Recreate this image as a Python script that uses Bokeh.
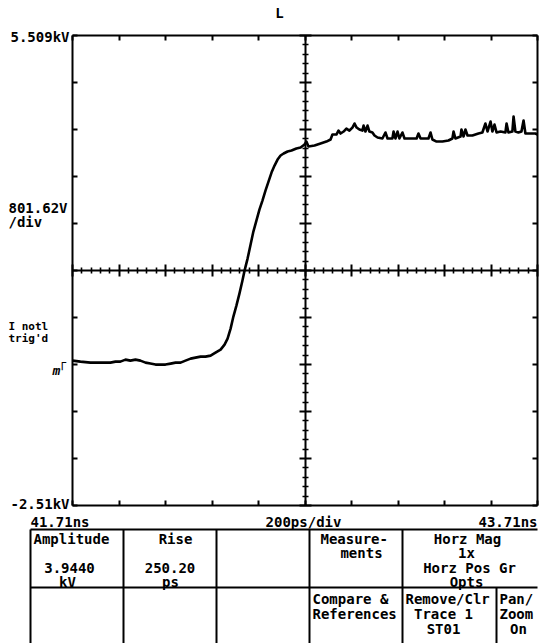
from bokeh.plotting import figure
from bokeh.models import Range1d, LinearAxis, FixedTicker, CustomJSTickFormatter
from bokeh.core.properties import value
from bokeh.embed import file_html
from bokeh.resources import INLINE

time_ns = [41.710, 41.744, 41.787, 41.830, 41.873, 41.895, 41.916, 41.938, 41.959, 41.981,
           42.002, 42.024, 42.045, 42.067, 42.088, 42.110, 42.132, 42.153, 42.175, 42.196,
           42.218, 42.239, 42.261, 42.282, 42.304, 42.325, 42.347, 42.364, 42.377, 42.390,
           42.402, 42.415, 42.428, 42.441, 42.450, 42.463, 42.476, 42.488, 42.501, 42.514,
           42.527, 42.540, 42.553, 42.566, 42.579, 42.592, 42.605, 42.618, 42.635, 42.652,
           42.673, 42.691, 42.708, 42.716, 42.725, 42.751, 42.777, 42.802, 42.820, 42.828,
           42.845, 42.854, 42.863, 42.876, 42.888, 42.901, 42.914, 42.923, 42.932, 42.944,
           42.957, 42.962, 42.970, 42.979, 42.987, 43.000, 43.009, 43.022, 43.043, 43.056,
           43.065, 43.086, 43.091, 43.099, 43.108, 43.116, 43.129, 43.138, 43.164, 43.190,
           43.198, 43.207, 43.241, 43.250, 43.258, 43.276, 43.301, 43.327, 43.344, 43.349,
           43.357, 43.379, 43.383, 43.392, 43.400, 43.409, 43.430, 43.456, 43.473, 43.486,
           43.495, 43.508, 43.516, 43.525, 43.534, 43.551, 43.572, 43.577, 43.585, 43.602,
           43.607, 43.615, 43.628, 43.641, 43.650, 43.658, 43.680, 43.701, 43.710]
volts_kv = [-0.036, -0.053, -0.070, -0.070, -0.070, -0.053, -0.053, -0.019, -0.036, -0.019,
            -0.036, -0.070, -0.087, -0.104, -0.104, -0.104, -0.087, -0.070, -0.070, -0.036,
            -0.002, 0.015, 0.032, 0.032, 0.049, 0.100, 0.152, 0.237, 0.339, 0.510,
            0.715, 0.902, 1.107, 1.329, 1.499, 1.704, 1.943, 2.165, 2.353, 2.540,
            2.694, 2.864, 3.018, 3.171, 3.291, 3.393, 3.462, 3.496, 3.530, 3.547,
            3.581, 3.598, 3.649, 3.700, 3.615, 3.632, 3.666, 3.700, 3.735, 3.820,
            3.820, 3.888, 3.837, 3.871, 3.922, 3.888, 3.939, 4.008, 3.939, 3.905,
            3.888, 3.973, 3.871, 3.973, 3.871, 3.854, 3.803, 3.769, 3.752, 3.854,
            3.752, 3.752, 3.871, 3.752, 3.871, 3.752, 3.854, 3.752, 3.752, 3.752,
            3.837, 3.752, 3.752, 3.854, 3.735, 3.700, 3.700, 3.718, 3.752, 3.871,
            3.752, 3.786, 3.905, 3.786, 3.905, 3.803, 3.803, 3.837, 3.854, 4.008,
            3.871, 4.042, 3.871, 3.990, 3.854, 3.871, 3.854, 4.008, 3.854, 3.871,
            4.127, 3.871, 3.854, 3.871, 4.059, 3.837, 3.837, 3.837, 3.820]

t_start, t_end = 41.71, 43.71          # ns, 200 ps/div
v_top, v_per_div = 5.509, 0.80162      # kV, 801.62 V/div
n_div = 10
y_end_labels = ["5.509kV", "-2.51kV"]
x_end_labels = ["41.71ns", "200ps/div", "43.71ns"]
side_labels = ["801.62V", "/div", "I notl", "trig'd"]
title_label = "L"

table_left = ["Amplitude", "Measure-", "Compare &", "References", "Remove/Clr", "Pan/", "Zoom"]
table_center = ["3.9440", "kV", "Rise", "250.20", "ps", "ments", "Horz Mag", "1x",
                "Horz Pos Gr", "Opts", "Trace 1", "ST01", "On"]

# ---------------- derived scale values ----------------
v_bottom = v_top - n_div * v_per_div
t_div = (t_end - t_start) / n_div
v_mid = v_bottom + 5 * v_per_div
t_mid = t_start + 5 * t_div
x_major = [t_start + i * t_div for i in range(n_div + 1)]
y_major = [v_bottom + i * v_per_div for i in range(n_div + 1)]
x_minor = [t_start + k * t_div / 5 for k in range(5 * n_div + 1) if k % 5]
y_minor = [v_bottom + k * v_per_div / 5 for k in range(5 * n_div + 1) if k % 5]

FONT = "DejaVu Sans Mono"
W, H = 540, 643
G_L, G_T, G_W, G_H = 72, 35, 465, 470      # graticule position on the canvas (px)
px_t = (t_end - t_start) / G_W
px_v = (v_top - v_bottom) / G_H


def tx(px):
    return t_start + (px - G_L) * px_t


def vy(py):
    return v_top - (py - G_T) * px_v


p = figure(width=W, height=H, output_backend="svg", toolbar_location=None,
           x_range=Range1d(tx(0), tx(W)), y_range=Range1d(vy(H), vy(0)),
           min_border=0, x_axis_location=None, y_axis_location=None)
p.grid.visible = False
p.outline_line_color = None
p.background_fill_color = "white"
p.border_fill_color = "white"

BLANK = CustomJSTickFormatter(code="return '';")


def graticule_axis(side, loc, major, minor=None, tin=5, tout=0, mtin=0, mtout=0, width=2):
    if side in ("left", "right"):
        bounds = (v_bottom, v_top)
    else:
        bounds = (t_start, t_end)
    ax = LinearAxis(fixed_location=loc, bounds=bounds,
                    ticker=FixedTicker(ticks=major, minor_ticks=minor or []),
                    formatter=BLANK, major_label_text_font_size="0px", major_label_standoff=0,
                    axis_line_width=width, axis_line_color="black",
                    major_tick_in=tin, major_tick_out=tout, major_tick_line_width=width,
                    minor_tick_in=mtin, minor_tick_out=mtout, minor_tick_line_width=1.6,
                    minor_tick_line_color="black" if minor else None)
    p.add_layout(ax, side)


# outer frame of the graticule
graticule_axis("left", t_start, y_major)
graticule_axis("right", t_end, y_major)
graticule_axis("above", v_top, x_major)
graticule_axis("below", v_bottom, x_major)
# centre cross-hair with fine divisions
graticule_axis("below", v_mid, x_major, x_minor, tin=6, tout=6, mtin=3, mtout=3)
graticule_axis("left", t_mid, y_major, y_minor, tin=6, tout=6, mtin=3, mtout=3)

# waveform
p.line(time_ns, volts_kv, line_color="black", line_width=2.6, line_join="round")


def add_text(xs_px, ys_px, texts, align="left", baseline="alphabetic", size="14px", style="bold"):
    p.text(x=[tx(v) for v in xs_px], y=[vy(v) for v in ys_px], text=texts,
           text_font=value(FONT), text_font_size=size, text_font_style=style,
           text_align=align, text_baseline=baseline, text_color="black")


add_text([69, 69], [36, 503], y_end_labels, align="right", baseline="middle")
add_text([8, 8], [207, 221], side_labels[:2])
add_text([8, 8], [326, 338], side_labels[2:], size="11px")
add_text([279], [12], [title_label], align="center")
# ground reference marker
add_text([58], [362], ["\u250c"], size="13px")
add_text([52], [370], ["m"], size="13px", style="bold italic")

# ---------------- menu / readout area ----------------
rx0 = [30, 30, 30, 123, 216, 309, 402, 496]
rx1 = [537, 537, 30, 123, 216, 309, 402, 496]
ry0 = [529, 587, 529, 529, 529, 529, 529, 587]
ry1 = [529, 587, 643, 643, 643, 643, 643, 643]
p.segment([tx(v) for v in rx0], [vy(v) for v in ry0], [tx(v) for v in rx1], [vy(v) for v in ry1],
          line_color="black", line_width=2)

add_text([30], [521], [x_end_labels[0]], align="left")
add_text([303], [521], [x_end_labels[1]], align="center")
add_text([537], [521], [x_end_labels[2]], align="right")

add_text([33, 320, 312, 312, 405, 499, 499], [538, 538, 598, 613, 598, 598, 613], table_left)
add_text([69, 67, 175, 169.5, 170, 361, 467, 466, 469, 466, 443, 443, 518],
         [567, 581, 538, 567, 581, 552, 538, 552, 567, 581, 613, 628, 628],
         table_center, align="center")

open("out.html", "w").write(file_html(p, INLINE))
